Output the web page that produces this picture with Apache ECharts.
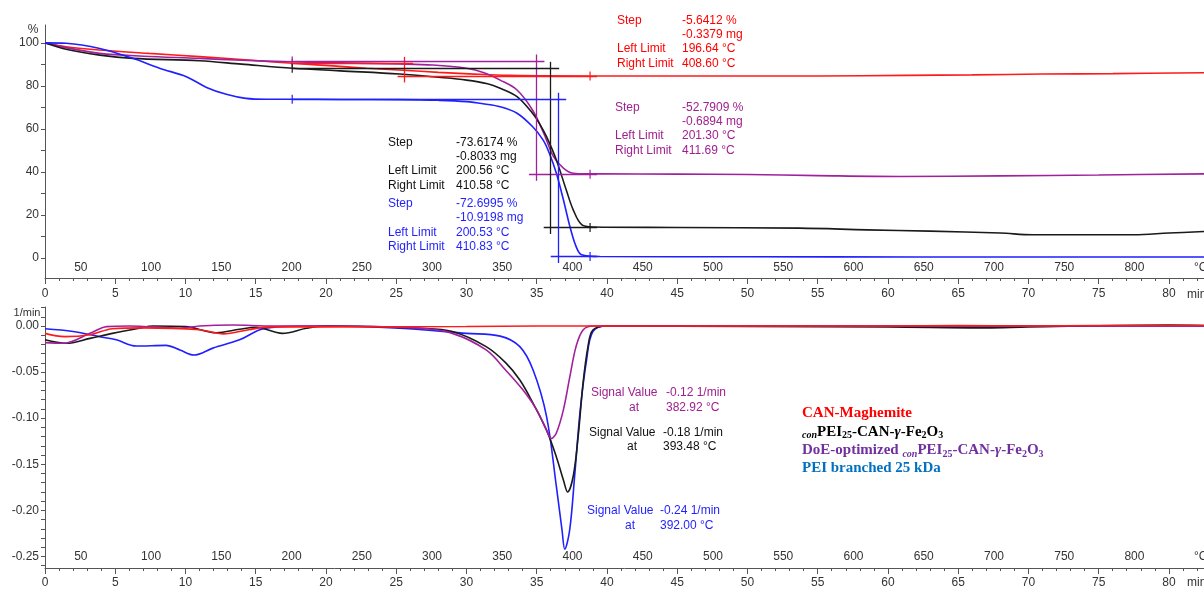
<!DOCTYPE html>
<html>
<head>
<meta charset="utf-8">
<title>TGA / DTG</title>
<script src="https://cdn.jsdelivr.net/npm/echarts@6/dist/echarts.min.js"></script>
<style>
  html, body { margin: 0; padding: 0; background: #fff; }
  #chart { width: 1204px; height: 589px; }
</style>
</head>
<body>
<div id="chart"></div>
<script>
// ---- axes ----
const tMax = 82.5;                       // minutes shown
const tempOffset = 24.5;                 // T = 24.5 + 10 * t
const minuteLabels = [0, 5, 10, 15, 20, 25, 30, 35, 40, 45, 50, 55, 60, 65, 70, 75, 80];
const tempLabels = [50, 100, 150, 200, 250, 300, 350, 400, 450, 500, 550, 600, 650, 700, 750, 800];
const tgLabels = [0, 20, 40, 60, 80, 100];
const dtgLabels = [0, -0.05, -0.1, -0.15, -0.2, -0.25];

// ---- TG curves (time min, mass %) ----
const tgRedT = [0, 1.5, 3.9, 7.4, 11, 14.5, 17.6, 20.5, 22.9, 25.5, 28, 30.2, 33, 40, 50, 55, 61.3, 66, 71, 76, 82.5];
const tgRedV = [100, 98.2, 96.7, 95.1, 93.6, 92.0, 90.5, 89.3, 88.2, 87.3, 86.3, 85.6, 84.9, 84.6, 84.6, 84.6, 84.9, 85.1, 85.5, 85.7, 86.1];

const tgBlackT = [0, 1.5, 3.9, 6.25, 11, 14, 17.65, 21, 25.25, 28, 30, 31.5, 32.4, 33.6, 34.7, 35.2, 35.7, 36.4, 37.1, 37.6, 38.2, 39, 45, 53.7, 58.5, 63, 68, 70.3, 75, 77.5, 80, 82.5];
const tgBlackV = [100, 97.0, 94.3, 92.8, 91.7, 90.1, 88.2, 87.0, 85.5, 84.0, 82.7, 81.0, 78.9, 75, 67.3, 62.5, 56.4, 45.6, 31.7, 22.4, 15.5, 14.4, 14.2, 13.9, 13.1, 12.5, 11.6, 10.8, 10.8, 10.8, 11.6, 12.3];

const tgPurpleT = [0, 1.5, 3.9, 7, 11, 14, 17.6, 21, 25.25, 27.6, 30, 31.3, 32.4, 33.6, 34.7, 35.5, 36.2, 36.9, 37.6, 38.5, 39.5, 45, 50, 55, 60.9, 68, 75, 82.5];
const tgPurpleV = [100, 97.8, 95.1, 93.8, 92.8, 91.9, 91.2, 90.7, 90.2, 89.7, 88.2, 86.0, 82.7, 78.1, 68.8, 58, 47.1, 41.8, 39.4, 39.1, 39.1, 39.0, 38.8, 38.3, 37.9, 38.2, 38.6, 39.1];

const tgBlueT = [0, 1.5, 3.9, 6.25, 8.15, 10.06, 11.5, 12.9, 14.3, 15.75, 17.6, 21, 25.25, 28, 30, 31.3, 32.4, 33.6, 34.7, 35.45, 35.9, 36.4, 36.9, 37.36, 37.8, 38.2, 39.5, 50, 62, 82.5];
const tgBlueV = [100, 99.8, 97.4, 92.8, 88.2, 84.3, 79.3, 76.1, 74.2, 73.8, 73.8, 73.7, 73.6, 73.3, 72.7, 71.6, 70.3, 67.3, 61.1, 54.9, 48.7, 39.4, 27.1, 14.7, 5.4, 1.5, 0.7, 0.6, 0.5, 0.5];

// step evaluation: [left limit t, right limit t, midpoint t, upper %, lower %]
const stepRed = [17.6, 38.8, 25.6, 90.5, 84.6];
const stepPurple = [17.6, 38.8, 34.95, 91.6, 38.9];
const stepBlack = [17.6, 38.8, 36.0, 88.2, 14.2];
const stepBlue = [17.6, 38.8, 36.5, 73.8, 0.7];

// ---- DTG curves (time min, 1/min) ----
const dtgRedT = [0, 1.4, 3.2, 4.8, 7, 11, 12.7, 14.5, 16, 20, 30, 35, 40, 50, 60, 65, 70, 75, 82.5];
const dtgRedV = [-0.008, -0.0115, -0.0095, -0.003, -0.002, -0.004, -0.0085, -0.004, -0.001, -0.001, -0.0005, 0, 0, 0, 0, 0.0005, 0, 0.0005, 0.0005];

const dtgBlackT = [0, 1.5, 3.2, 4.8, 6.7, 7.7, 10, 12.2, 13.85, 15, 16.9, 18.6, 20, 26.7, 29, 31.4, 32.8, 33.8, 34.75, 35.7, 36.4, 36.9, 37.2, 37.6, 37.95, 38.3, 38.65, 39, 40, 50, 60, 67, 70, 80, 82.5];
const dtgBlackV = [-0.015, -0.0188, -0.0134, -0.008, -0.0025, 0, -0.0007, -0.0073, -0.0036, -0.0014, -0.008, -0.0025, 0, -0.0025, -0.006, -0.0224, -0.04, -0.0586, -0.084, -0.113, -0.142, -0.167, -0.18, -0.163, -0.12, -0.062, -0.0224, -0.0043, 0, -0.0005, -0.001, -0.002, -0.001, 0.001, 0.0005];

const dtgPurpleT = [0, 1.3, 3.2, 4.4, 6, 9.6, 11, 13.4, 16, 20, 26.7, 29, 31.4, 32.8, 34, 35, 35.7, 36.05, 36.4, 36.9, 37.36, 37.8, 38.3, 39, 50, 82.5];
const dtgPurpleV = [-0.018, -0.0188, -0.008, -0.0007, 0, -0.0025, 0, 0.001, 0, 0, -0.0025, -0.008, -0.026, -0.048, -0.069, -0.091, -0.113, -0.122, -0.116, -0.091, -0.055, -0.0224, -0.0043, 0, 0, 0];

const dtgBlueT = [0, 2, 3.9, 5.07, 6.5, 8.6, 9.6, 10.6, 11.95, 13.85, 15.3, 16.5, 20, 25.25, 30, 32.4, 33.8, 34.75, 35.7, 36.4, 36.8, 37.0, 37.35, 37.7, 38.1, 38.55, 39, 40, 50, 82.5];
const dtgBlueV = [-0.003, -0.006, -0.0116, -0.015, -0.0217, -0.021, -0.026, -0.0315, -0.024, -0.015, -0.004, -0.001, 0, -0.0025, -0.008, -0.011, -0.0224, -0.048, -0.098, -0.174, -0.221, -0.242, -0.221, -0.163, -0.091, -0.037, -0.006, 0, 0, 0];

// ---- annotation texts ----
const noteRed = [['Step', '-5.6412 %'], ['', '-0.3379 mg'], ['Left Limit', '196.64 °C'], ['Right Limit', '408.60 °C']];
const notePurple = [['Step', '-52.7909 %'], ['', '-0.6894 mg'], ['Left Limit', '201.30 °C'], ['Right Limit', '411.69 °C']];
const noteBlack = [['Step', '-73.6174 %'], ['', '-0.8033 mg'], ['Left Limit', '200.56 °C'], ['Right Limit', '410.58 °C']];
const noteBlue = [['Step', '-72.6995 %'], ['', '-10.9198 mg'], ['Left Limit', '200.53 °C'], ['Right Limit', '410.83 °C']];
const peakPurple = [['Signal Value', '-0.12 1/min'], ['at', '382.92 °C']];
const peakBlack = [['Signal Value', '-0.18 1/min'], ['at', '393.48 °C']];
const peakBlue = [['Signal Value', '-0.24 1/min'], ['at', '392.00 °C']];

const C = { red: '#ff1a1a', black: '#1a1a1a', purple: '#a0219c', blue: '#1f1fff' };
const FONT = 'Liberation Sans';

const zip = (t, v) => t.map((x, i) => [x, v[i]]);
const range = (a, b, s) => { const r = []; for (let x = a; x <= b + 1e-9; x += s) r.push(+x.toFixed(3)); return r; };

const chart = echarts.init(document.getElementById('chart'));

const axisColor = '#555';
const labelStyle = { color: '#333', fontFamily: FONT, fontSize: 12 };

// builds the three x axes for one grid: minute labels + 5-min ticks, 1-min ticks, temperature labels
const makeXAxes = (gridIndex, labelMargin, tempMargin) => [
  {
    type: 'value', gridIndex, min: 0, max: tMax, position: 'bottom',
    axisLine: { onZero: false, lineStyle: { color: axisColor } },
    axisTick: { customValues: minuteLabels, length: 6, lineStyle: { color: axisColor } },
    axisLabel: { customValues: minuteLabels, margin: labelMargin, ...labelStyle },
    splitLine: { show: false }
  },
  {
    type: 'value', gridIndex, min: 0, max: tMax, position: 'bottom',
    axisLine: { show: false, onZero: false },
    axisTick: { customValues: range(0, 82, 1), length: 3, lineStyle: { color: axisColor } },
    axisLabel: { show: false },
    splitLine: { show: false }
  },
  {
    type: 'value', gridIndex, min: tempOffset, max: tempOffset + 10 * tMax, position: 'bottom',
    axisLine: { show: false, onZero: false },
    axisTick: { show: false },
    axisLabel: { customValues: tempLabels, inside: true, margin: tempMargin, ...labelStyle },
    splitLine: { show: false }
  }
];

const curve = (name, data, color, xAxisIndex, yAxisIndex, extra) => ({
  name, type: 'line', data, xAxisIndex, yAxisIndex,
  showSymbol: false, smooth: 0.35,
  lineStyle: { color, width: 1.6 }, itemStyle: { color },
  z: 3,
  ...extra
});

// step construction lines for a TG curve
const stepLines = (s, color) => ({
  silent: true, symbol: ['none', 'none'], label: { show: false },
  lineStyle: { color, width: 1.3, type: 'solid' },
  data: [
    [{ coord: [s[0], s[3]] }, { coord: [s[2] + 0.6, s[3]] }],
    [{ coord: [s[2] - 0.5, s[4]] }, { coord: [s[1] + 0.5, s[4]] }],
    [{ coord: [s[2], s[3] + 3] }, { coord: [s[2], s[4] - 3] }]
  ]
});

const limitMarks = (s, color) => ({
  type: 'scatter', xAxisIndex: 0, yAxisIndex: 0, silent: true,
  symbol: 'rect', symbolSize: [1.5, 9], itemStyle: { color },
  data: [[s[0], s[3]], [s[1], s[4]]], z: 4
});

// annotation blocks as graphic texts
const noteBlock = (rows, x1, x2, y0, dy, color) => {
  const out = [];
  rows.forEach((r, i) => {
    const isAt = r[0] === 'at';
    if (r[0]) out.push({ type: 'text', x: isAt ? x1 + 43 : x1, y: y0 + i * dy, style: { text: r[0], fill: color, font: `12px "${FONT}"`, textAlign: isAt ? 'center' : 'left', textVerticalAlign: 'middle' } });
    out.push({ type: 'text', x: x2, y: y0 + i * dy, style: { text: r[1], fill: color, font: `12px "${FONT}"`, textAlign: 'left', textVerticalAlign: 'middle' } });
  });
  return out;
};

const legendRich = {
  r: { fontFamily: 'Liberation Serif', fontWeight: 'bold', fontSize: 15 },
  s: { fontFamily: 'Liberation Serif', fontWeight: 'bold', fontSize: 10, padding: [8, 0, 0, 0] },
  si: { fontFamily: 'Liberation Serif', fontWeight: 'bold', fontStyle: 'italic', fontSize: 10, padding: [8, 0, 0, 0] },
  g: { fontFamily: 'Liberation Serif', fontWeight: 'bold', fontStyle: 'italic', fontSize: 15 }
};
const legendLine = (text, y, color) => ({
  type: 'text', x: 802, y, style: { text, rich: legendRich, fill: color, textVerticalAlign: 'middle' }
});

const option = {
  animation: false,
  backgroundColor: '#fff',
  grid: [
    { left: 45, top: 25, right: 0, height: 253 },
    { left: 45, top: 307, right: 0, height: 261 }
  ],
  xAxis: [...makeXAxes(0, 10, 4), ...makeXAxes(1, 9, 5)],
  yAxis: [
    {
      type: 'value', gridIndex: 0, min: -9.28, max: 108.3,
      axisLine: { show: true, onZero: false, lineStyle: { color: axisColor } },
      axisTick: { show: true, customValues: range(0, 100, 10), length: 4, lineStyle: { color: axisColor } },
      axisLabel: { customValues: tgLabels, margin: 6, ...labelStyle },
      splitLine: { show: false }
    },
    {
      type: 'value', gridIndex: 1, min: -0.2625, max: 0.0206,
      axisLine: { show: true, onZero: false, lineStyle: { color: axisColor } },
      axisTick: { show: true, customValues: range(-0.26, 0.02, 0.01), length: 4, lineStyle: { color: axisColor } },
      axisLabel: { customValues: dtgLabels, margin: 6, formatter: v => v.toFixed(2), ...labelStyle },
      splitLine: { show: false }
    }
  ],
  series: [
    curve('CAN-Maghemite', zip(tgRedT, tgRedV), C.red, 0, 0, { markLine: stepLines(stepRed, C.red) }),
    curve('DoE-optimized', zip(tgPurpleT, tgPurpleV), C.purple, 0, 0, { markLine: stepLines(stepPurple, C.purple) }),
    curve('conPEI25', zip(tgBlackT, tgBlackV), C.black, 0, 0, { markLine: stepLines(stepBlack, C.black) }),
    curve('PEI branched', zip(tgBlueT, tgBlueV), C.blue, 0, 0, { markLine: stepLines(stepBlue, C.blue) }),
    limitMarks(stepRed, C.red),
    limitMarks(stepPurple, C.purple),
    limitMarks(stepBlack, C.black),
    limitMarks(stepBlue, C.blue),
    curve('PEI branched dtg', zip(dtgBlueT, dtgBlueV), C.blue, 3, 1),
    curve('conPEI25 dtg', zip(dtgBlackT, dtgBlackV), C.black, 3, 1),
    curve('DoE-optimized dtg', zip(dtgPurpleT, dtgPurpleV), C.purple, 3, 1),
    curve('CAN-Maghemite dtg', zip(dtgRedT, dtgRedV), C.red, 3, 1)
  ],
  graphic: [
    { type: 'text', x: 33, y: 30, style: { text: '%', fill: '#333', font: `12px "${FONT}"`, textAlign: 'center', textVerticalAlign: 'middle' } },
    { type: 'text', x: 27, y: 313, style: { text: '1/min', fill: '#333', font: `11px "${FONT}"`, textAlign: 'center', textVerticalAlign: 'middle' } },
    { type: 'text', x: 1187, y: 295, style: { text: 'min', fill: '#333', font: `12px "${FONT}"`, textVerticalAlign: 'middle' } },
    { type: 'text', x: 1187, y: 583, style: { text: 'min', fill: '#333', font: `12px "${FONT}"`, textVerticalAlign: 'middle' } },
    { type: 'text', x: 1194, y: 268, style: { text: '°C', fill: '#333', font: `12px "${FONT}"`, textVerticalAlign: 'middle' } },
    { type: 'text', x: 1194, y: 557, style: { text: '°C', fill: '#333', font: `12px "${FONT}"`, textVerticalAlign: 'middle' } },
    ...noteBlock(noteRed, 617, 682, 20.5, 14.3, '#ff0000'),
    ...noteBlock(notePurple, 615, 682, 107.5, 14.3, '#a0208f'),
    ...noteBlock(noteBlack, 388, 456, 142.3, 14.3, '#111'),
    ...noteBlock(noteBlue, 388, 456, 203.5, 14.4, '#1f1fff'),
    ...noteBlock(peakPurple, 591, 666, 392.7, 14.6, '#a0208f'),
    ...noteBlock(peakBlack, 589, 663, 432.7, 14.2, '#111'),
    ...noteBlock(peakBlue, 587, 660, 511, 14.7, '#1f1fff'),
    legendLine('{r|CAN-Maghemite}', 412.7, '#ff0000'),
    legendLine('{si|con}{r|PEI}{s|25}{r|-CAN-}{g|γ}{r|-Fe}{s|2}{r|O}{s|3}', 431.7, '#000'),
    legendLine('{r|DoE-optimized }{si|con}{r|PEI}{s|25}{r|-CAN-}{g|γ}{r|-Fe}{s|2}{r|O}{s|3}', 450.2, '#7030a0'),
    legendLine('{r|PEI branched 25 kDa}', 468.5, '#0070c0')
  ]
};

chart.setOption(option);
</script>
</body>
</html>
